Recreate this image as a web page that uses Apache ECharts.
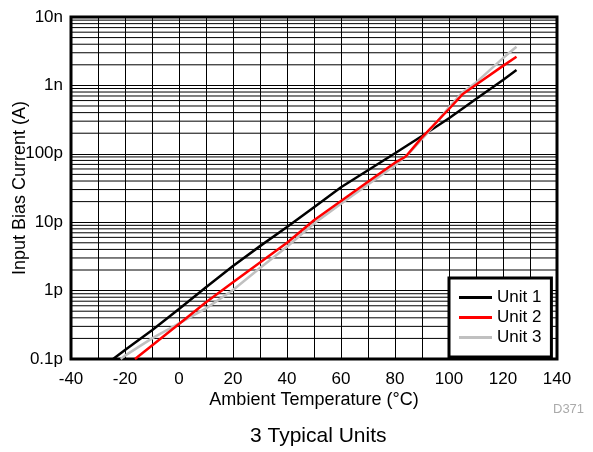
<!DOCTYPE html>
<html><head><meta charset="utf-8">
<script src="https://cdn.jsdelivr.net/npm/echarts@6/dist/echarts.min.js"></script>
<style>html,body{margin:0;padding:0;background:#fff}#c{width:593px;height:452px}</style>
</head><body><div id="c"></div>
<script>
const temp1 = [-24.4, -20, -10, 0, 10, 20, 30, 40, 50, 60, 70, 80, 90, 100, 110, 120, 125];
const unit1 = [1e-13, 1.35e-13, 2.63e-13, 5.37e-13, 1.12e-12, 2.29e-12, 4.47e-12, 8.51e-12, 1.66e-11, 3.24e-11, 5.75e-11, 1.02e-10, 1.82e-10, 3.31e-10, 6.31e-10, 1.2e-9, 1.68e-9];
const temp2 = [-16.3, -10, 0, 10, 20, 30, 40, 50, 60, 70, 80, 84, 90, 100, 105, 110, 120, 125];
const unit2 = [1e-13, 1.58e-13, 3.24e-13, 6.76e-13, 1.32e-12, 2.57e-12, 5.01e-12, 1.07e-11, 2.04e-11, 3.89e-11, 7.41e-11, 9.12e-11, 1.74e-10, 4.52e-10, 7.41e-10, 1.02e-9, 1.93e-9, 2.63e-9];
const temp3 = [-21.6, -20, -10, 0, 10, 20, 30, 40, 50, 60, 70, 80, 85, 92, 100, 105, 110, 120, 125];
const unit3 = [1e-13, 1.12e-13, 2.0e-13, 3.31e-13, 5.5e-13, 1.02e-12, 2.14e-12, 4.37e-12, 9.55e-12, 1.86e-11, 3.55e-11, 6.76e-11, 1.0e-10, 2.0e-10, 4.79e-10, 7.94e-10, 1.1e-9, 2.51e-9, 3.67e-9];
const seriesNames = ['Unit 1', 'Unit 2', 'Unit 3'];
const decades = [1e-13, 1e-12, 1e-11, 1e-10, 1e-9];
const minorMultipliers = [2, 3, 4, 5, 6, 7, 8, 9];
const yTickLabels = {'-13': '0.1p', '-12': '1p', '-11': '10p', '-10': '100p', '-9': '1n', '-8': '10n'};

const zip = (xs, ys) => xs.map((x, i) => [x, ys[i]]);
const X_MIN = -40, X_MAX = 140;
const minorLines = [];
decades.forEach(d => minorMultipliers.forEach(m => minorLines.push([X_MIN, m * d])));

const FONT = 'Liberation Sans';
const chart = echarts.init(document.getElementById('c'), null, {renderer: 'canvas'});
chart.setOption({
  animation: false,
  backgroundColor: '#fff',
  textStyle: {fontFamily: FONT},
  title: {
    text: '3 Typical Units', left: 250, top: 426, padding: 0,
    textStyle: {fontFamily: FONT, fontSize: 21, fontWeight: 'normal', color: '#000'}
  },
  graphic: [{
    type: 'text', left: 553, top: 403,
    style: {text: 'D371', fontFamily: FONT, fontSize: 13, fill: '#aaa'}
  }],
  grid: {left: 71, right: 36, top: 17, bottom: 93, containLabel: false, outerBoundsMode: 'none',
    show: true, borderColor: '#000', borderWidth: 3, backgroundColor: 'transparent'},
  xAxis: {
    type: 'value', min: X_MIN, max: X_MAX, interval: 20,
    name: 'Ambient Temperature (°C)', nameLocation: 'middle', nameGap: 32, nameMoveOverlap: false,
    nameTextStyle: {fontFamily: FONT, fontSize: 18, color: '#000'},
    axisLine: {show: false}, axisTick: {show: false},
    axisLabel: {fontFamily: FONT, fontSize: 17, color: '#000', margin: 12},
    splitLine: {show: true, lineStyle: {color: '#000', width: 1}},
    minorTick: {show: false, splitNumber: 2},
    minorSplitLine: {show: true, lineStyle: {color: '#000', width: 1}}
  },
  yAxis: {
    type: 'log', logBase: 10, min: 1e-13, max: 1e-8,
    name: 'Input Bias Current (A)', nameLocation: 'middle', nameGap: 42, nameMoveOverlap: false,
    nameTextStyle: {fontFamily: FONT, fontSize: 18, color: '#000'},
    axisLine: {show: false}, axisTick: {show: false},
    axisLabel: {
      fontFamily: FONT, fontSize: 17, color: '#000', margin: 8,
      formatter: v => yTickLabels[String(Math.round(Math.log10(v)))] || ''
    },
    splitLine: {show: true, lineStyle: {color: '#000', width: 1}}
  },
  legend: {
    orient: 'vertical', left: 449, top: 278,
    backgroundColor: '#fff', borderColor: '#000', borderWidth: 3, borderRadius: 0,
    padding: [11, 10, 11, 10], itemGap: 3, itemWidth: 33, itemHeight: 3, itemTextGap: 10,
    icon: 'rect',
    textStyle: {fontFamily: FONT, fontSize: 17, color: '#000'},
    data: seriesNames
  },
  series: [
    {
      type: 'custom', name: '_minorGrid', silent: true, z: 1, clip: true,
      encode: {x: 0, y: 1},
      data: minorLines,
      renderItem: (params, api) => {
        const p = api.coord([api.value(0), api.value(1)]);
        const cs = params.coordSys;
        return {type: 'line', shape: {x1: cs.x, y1: p[1], x2: cs.x + cs.width, y2: p[1]},
          style: {stroke: '#000', lineWidth: 1}};
      }
    },
    {type: 'line', name: seriesNames[0], data: zip(temp1, unit1), showSymbol: false, symbol: 'none', z: 3,
      lineStyle: {color: '#000', width: 2.5}, itemStyle: {color: '#000'}},
    {type: 'line', name: seriesNames[1], data: zip(temp2, unit2), showSymbol: false, symbol: 'none', z: 5,
      lineStyle: {color: '#ff0000', width: 2.5}, itemStyle: {color: '#ff0000'}},
    {type: 'line', name: seriesNames[2], data: zip(temp3, unit3), showSymbol: false, symbol: 'none', z: 4,
      lineStyle: {color: '#c0c0c0', width: 2.5}, itemStyle: {color: '#c0c0c0'}}
  ]
});
</script></body></html>
